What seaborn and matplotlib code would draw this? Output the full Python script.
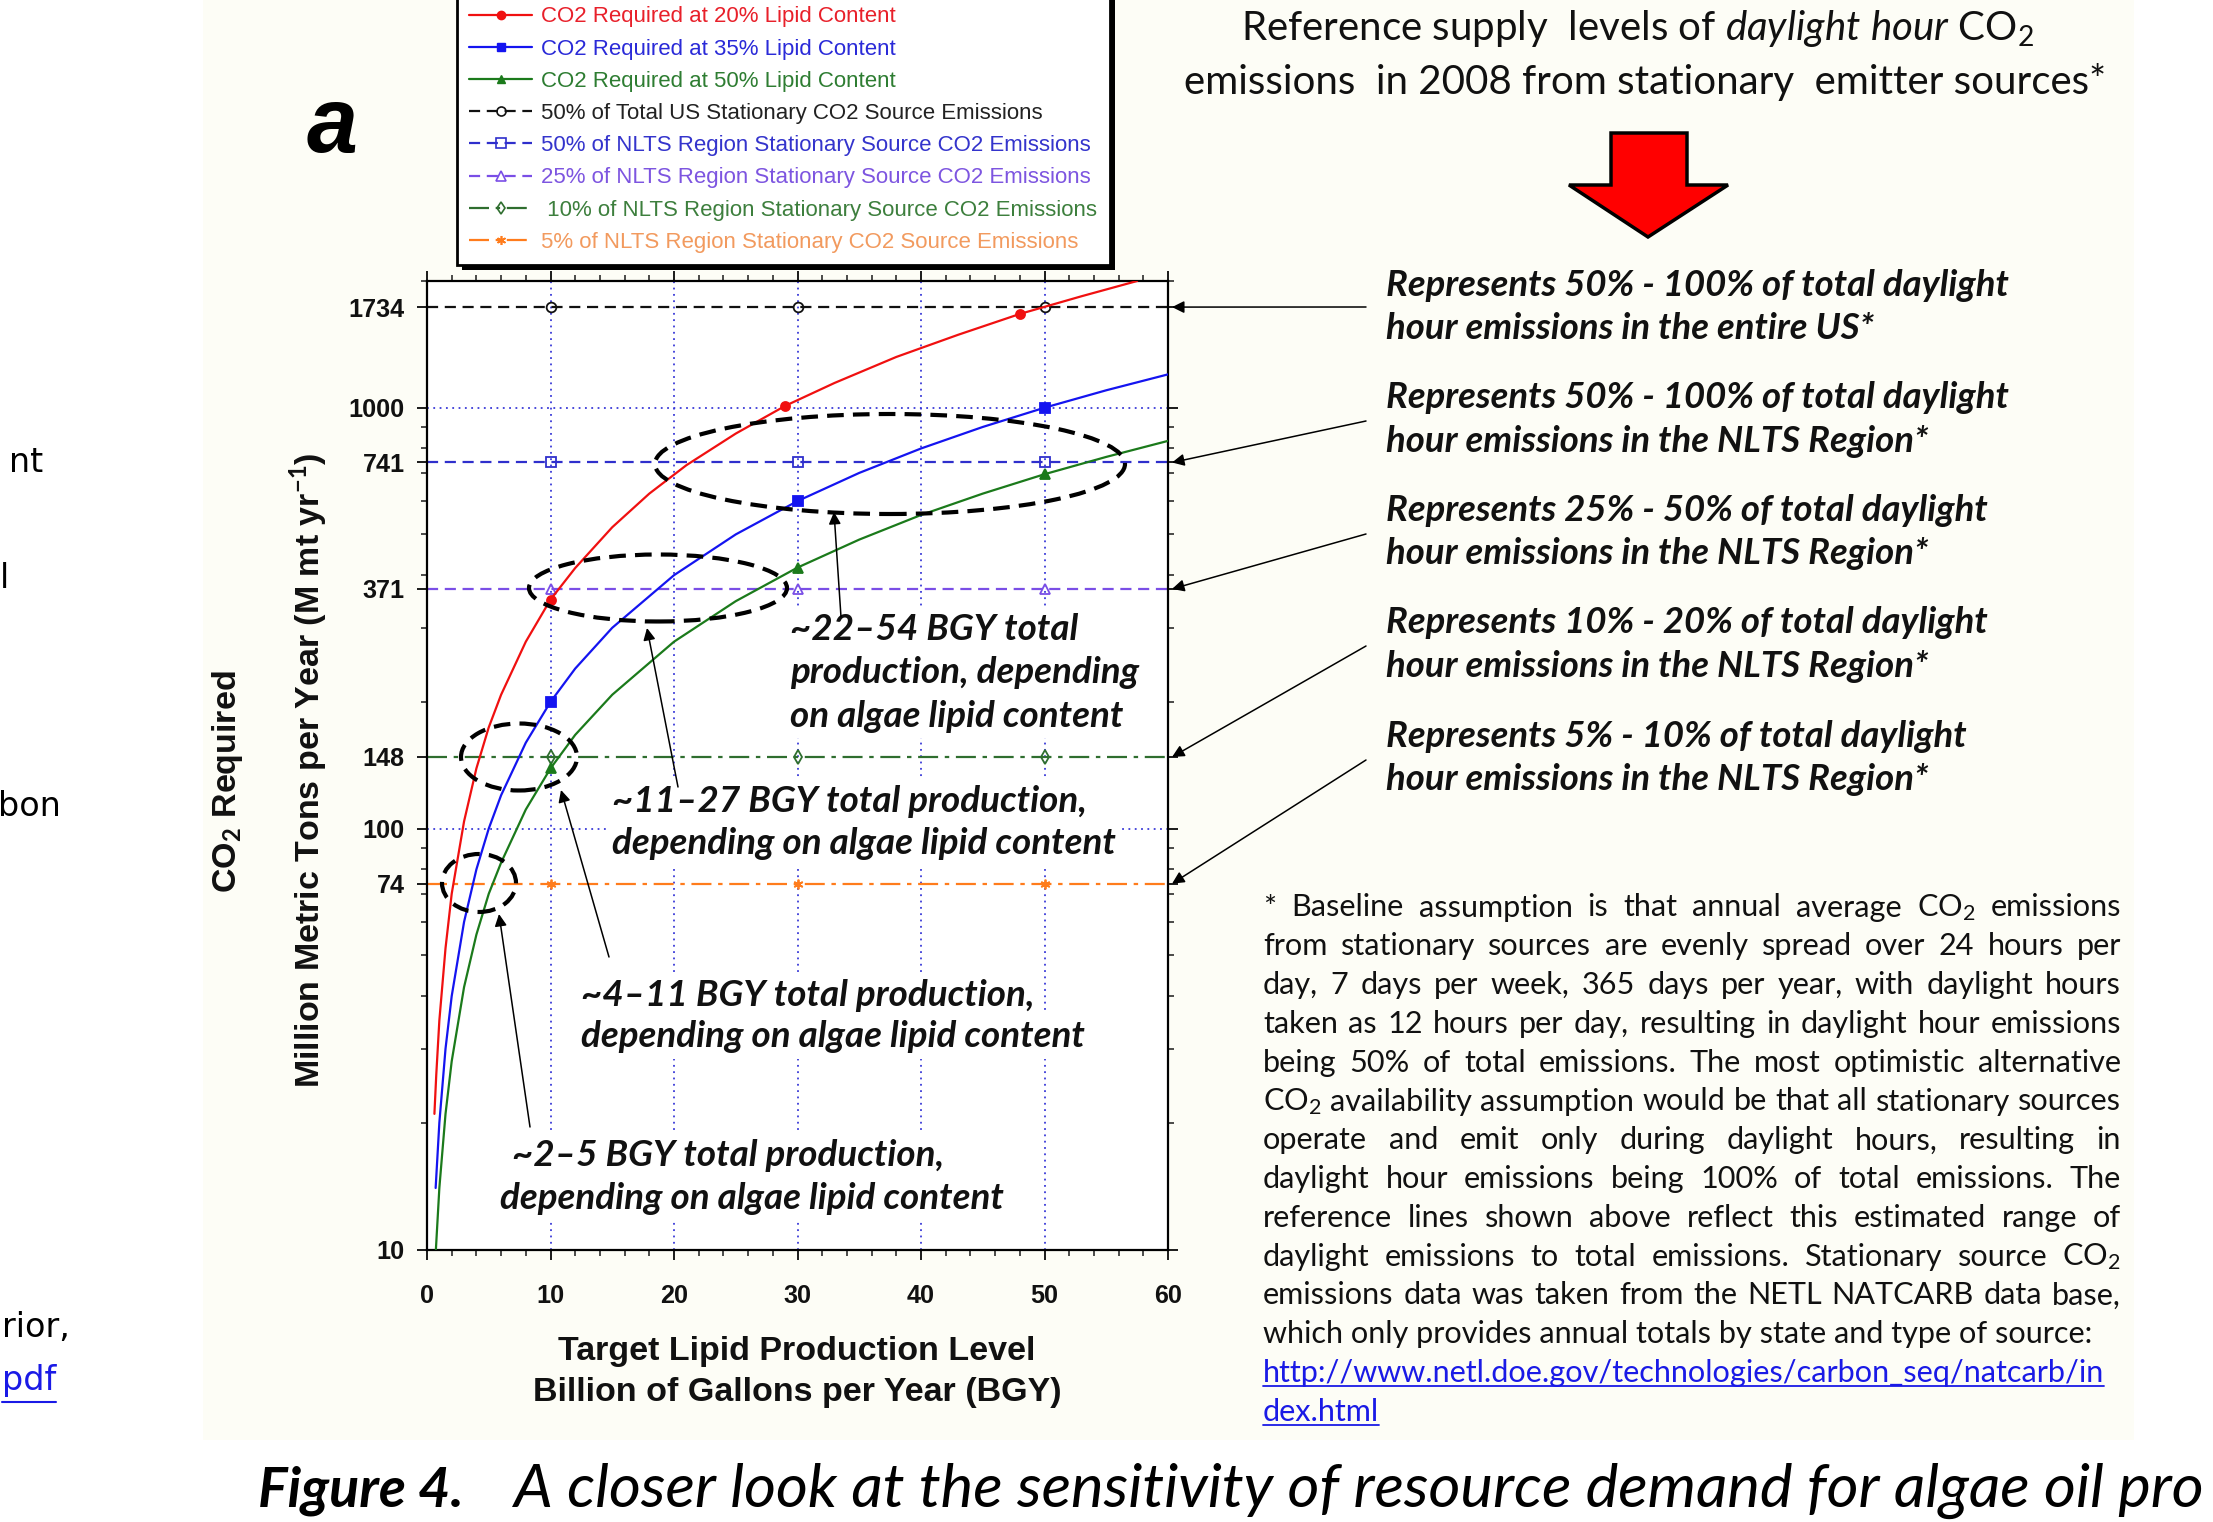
import numpy as np
import pandas as pd
import matplotlib
matplotlib.use("Agg")
import matplotlib.pyplot as plt
import matplotlib.ticker as mticker
from matplotlib.patches import Ellipse, Polygon, Rectangle
from matplotlib.lines import Line2D
import seaborn as sns

# ---------------- data ----------------
lipid_labels = ["CO2 Required at 20% Lipid Content",
                "CO2 Required at 35% Lipid Content",
                "CO2 Required at 50% Lipid Content"]
x_red = [0.6, 0.75, 1, 1.5, 2, 3, 4, 5, 6, 8, 10, 12, 15, 18, 21, 25, 29, 33, 38, 43, 48, 53, 57.5]
y_red = [21, 26, 35, 52, 70, 104, 139, 174, 208, 278, 350, 416, 520, 625, 730, 868, 1010, 1145,
         1320, 1490, 1670, 1840, 2000]
x_blue = [0.7, 1, 1.5, 2, 3, 4, 5, 6, 8, 10, 12, 15, 20, 25, 30, 35, 40, 45, 50, 55, 60]
y_blue = [14, 20, 30, 40, 60, 80, 100, 120, 160, 200, 240, 300, 400, 500, 600, 700, 800, 900,
          1000, 1100, 1200]
x_green = [0.72, 1, 1.5, 2, 3, 4, 5, 6, 8, 10, 12, 15, 20, 25, 30, 35, 40, 45, 50, 55, 60]
y_green = [10, 14, 21, 28, 42, 56, 70, 83, 111, 139, 167, 208, 278, 347, 417, 486, 556, 625,
           695, 764, 834]
marks_red = [10, 29, 48]
marks_blue = [10, 30, 50]
marks_green = [10, 30, 50]

ref_labels = ["50% of Total US Stationary CO2 Source Emissions",
              "50% of NLTS Region Stationary Source CO2 Emissions",
              "25% of NLTS Region Stationary Source CO2 Emissions",
              " 10% of NLTS Region Stationary Source CO2 Emissions",
              "5% of NLTS Region Stationary CO2 Source Emissions"]
ref_levels = [1734, 741, 371, 148, 74]
ref_x = [0, 10, 20, 30, 40, 50, 60]
ref_marks = [10, 30, 50]

x_ticks = [0, 10, 20, 30, 40, 50, 60]
y_ticks = [10, 74, 100, 148, 371, 741, 1000, 1734]
y_tick_labels = ["10", "74", "100", "148", "371", "741", "1000", "1734"]
grid_y = [100, 1000]

right_notes = [("Represents 50% - 100% of total daylight", "hour emissions in the entire US*"),
               ("Represents 50% - 100% of total daylight", "hour emissions in the NLTS Region*"),
               ("Represents 25% - 50% of total daylight", "hour emissions in the NLTS Region*"),
               ("Represents 10% - 20% of total daylight", "hour emissions in the NLTS Region*"),
               ("Represents 5% - 10% of total daylight", "hour emissions in the NLTS Region*")]
band_notes = [["~22\u201354 BGY total", "production, depending", "on algae lipid content"],
              ["~11\u201327 BGY total production,", "depending on algae lipid content"],
              ["~4\u201311 BGY total production,", "depending on algae lipid content"],
              ["~2\u20135 BGY total production,", "depending on algae lipid content"]]
footnote = ["* Baseline assumption is that annual average CO$_2$ emissions",
            "from stationary sources are evenly spread over 24 hours per",
            "day, 7 days per week, 365 days per year, with daylight hours",
            "taken as 12 hours per day, resulting in daylight hour emissions",
            "being 50% of total emissions.  The most optimistic alternative",
            "CO$_2$ availability assumption would be that all stationary sources",
            "operate and emit only during daylight hours, resulting in",
            "daylight hour emissions being 100% of total emissions.  The",
            "reference lines shown above reflect this estimated range of",
            "daylight emissions to total emissions.  Stationary source CO$_2$",
            "emissions data was taken from the NETL NATCARB data base,",
            "which only provides annual totals by state and type of source:"]
url_lines = ["http://www.netl.doe.gov/technologies/carbon_seq/natcarb/in", "dex.html"]

# ---------------- setup ----------------
W, H, DPI = 2213, 1522, 100
sns.set_theme(style="ticks")
plt.rcParams["font.family"] = ["Liberation Sans", "DejaVu Sans"]
plt.rcParams["mathtext.fontset"] = "custom"
plt.rcParams["mathtext.rm"] = "Lato"
plt.rcParams["mathtext.it"] = "Lato:italic"
plt.rcParams["mathtext.bf"] = "Lato:bold"

fig = plt.figure(figsize=(W / DPI, H / DPI), dpi=DPI, facecolor="white")
R = fig.canvas.get_renderer()


def fx(px):
    return px / W


def fy(py):
    return 1 - py / H


def width_of(s, size, **kw):
    t = fig.text(0, 0, s, fontsize=size, **kw)
    w = t.get_window_extent(R).width
    t.remove()
    return w


def fit(s, target, **kw):
    return 10 * target / width_of(s, 10, **kw)


# faint cream background of the pasted figure
fig.add_artist(Rectangle((fx(203), fy(1440)), fx(2134) - fx(203), fy(0) - fy(1440),
                         transform=fig.transFigure, facecolor="#fdfdf6", edgecolor="none", zorder=-10))

# ---------------- axes ----------------
AX_L, AX_R, AX_T, AX_B = 427, 1168, 281, 1249.5
ax = fig.add_axes([fx(AX_L), fy(AX_B), (AX_R - AX_L) / W, (AX_B - AX_T) / H])
ax.set_facecolor("white")
ax.set_yscale("log")
ax.set_xlim(0, 60)
ax.set_ylim(10, 2000)

curve_colors = ["#f01010", "#1414f0", "#1b7a1b"]
curve_markers = ["o", "s", "^"]
ref_colors = ["#111111", "#2f2fcc", "#7a4ee6", "#2f6e2f", "#ff7c1c"]
ref_markers = ["o", "s", "^", "d", (6, 2, 0)]
ref_ls = [(0, (5, 3)), (0, (5, 3)), (0, (5, 3)), (0, (9, 3, 2, 3)), (0, (9, 3, 2, 3))]
leg_text_colors = ["#e8202a", "#2a2ad8", "#2e7d32", "#222222", "#3434cc", "#7d55e0", "#3d7f3d", "#f29a5e"]


def series(xs, ys, marks, color, marker, ls="-", lw=1.6, ms=6.5, filled=True, z=3):
    idx = [i for i, v in enumerate(xs) if v in marks]
    sns.lineplot(x=xs, y=ys, ax=ax, color=color, linestyle=ls, linewidth=lw,
                 marker=marker, markevery=idx, markersize=ms,
                 markerfacecolor=color if filled else "none",
                 markeredgecolor=color, markeredgewidth=1.3,
                 estimator=None, errorbar=None, sort=False, legend=False, zorder=z)


for lvl, c, m, ls in zip(ref_levels, ref_colors, ref_markers, ref_ls):
    series(ref_x, [lvl] * len(ref_x), ref_marks, c, m, ls=ls, lw=1.6, ms=7, filled=False, z=2)

series(x_red, y_red, marks_red, curve_colors[0], "o")
series(x_blue, y_blue, marks_blue, curve_colors[1], "s")
series(x_green, y_green, marks_green, curve_colors[2], "^")

# grid (blue dotted)
grid_style = dict(color="#3a3ad8", linestyle=(0, (1, 2.5)), linewidth=1.3)
ax.set_axisbelow(True)
ax.grid(axis="x", which="major", **grid_style)
for g in grid_y:
    ax.axhline(g, zorder=0.6, **grid_style)

# ticks
ax.set_xticks(x_ticks)
ax.xaxis.set_minor_locator(mticker.MultipleLocator(2))
ax.set_yticks(y_ticks, labels=y_tick_labels)
ax.yaxis.set_minor_locator(mticker.LogLocator(10, subs=np.arange(2, 10), numticks=20))
ax.yaxis.set_minor_formatter(mticker.NullFormatter())
tick_fs = fit("1734", 56, weight="bold")
ax.tick_params(which="major", direction="out", length=7, width=1.4, color="k",
               top=True, right=True, labelsize=tick_fs, labelcolor="#111111")
ax.tick_params(which="minor", direction="out", length=4, width=1.1, color="k", top=True, right=True)
ax.tick_params(axis="x", which="major", pad=18)
ax.tick_params(axis="y", which="major", pad=9)
for lab in ax.get_xticklabels() + ax.get_yticklabels():
    lab.set_fontweight("bold")
for s in ax.spines.values():
    s.set_visible(True)
    s.set_linewidth(1.6)
    s.set_color("black")

# axis labels
lab_fs = fit("Billion of Gallons per Year (BGY)", 529, weight="bold")
fig.text(fx(797), fy(1360), "Target Lipid Production Level", ha="center", va="baseline",
         fontsize=lab_fs, weight="bold", color="#111111")
fig.text(fx(797), fy(1401), "Billion of Gallons per Year (BGY)", ha="center", va="baseline",
         fontsize=lab_fs, weight="bold", color="#111111")
fig.text(fx(228), fy(782), "CO$_\\mathbf{2}$ Required", rotation=90, ha="center", va="center",
         fontsize=lab_fs, weight="bold", color="#111111")
fig.text(fx(309), fy(770), "Million Metric Tons per Year (M mt yr$^{\\mathbf{-1}}$)", rotation=90,
         ha="center", va="center", fontsize=lab_fs, weight="bold", color="#111111")

# panel letter
fig.text(fx(332), fy(152), "a", ha="center", va="baseline", fontsize=66, weight="bold",
         style="italic", color="black")


# ---------------- ellipses ----------------
def to_ax(px, py):
    return (px - AX_L) / (AX_R - AX_L), (AX_B - py) / (AX_B - AX_T)


ellipses = [(890, 464, 470, 100), (658, 588, 258, 67), (519, 757, 116, 67), (479, 883, 74, 58)]
for cx, cy, w, h in ellipses:
    c = to_ax(cx, cy)
    ax.add_patch(Ellipse(c, w / (AX_R - AX_L), h / (AX_B - AX_T), transform=ax.transAxes,
                         fill=False, edgecolor="black", linewidth=3.0, linestyle=(0, (4, 2.2)),
                         zorder=4, clip_on=False))

# ---------------- band annotations (inside plot) ----------------
ann_fs = fit(band_notes[1][0], 472, family="Lato", weight="bold", style="italic")
band_pos = [([790, 790, 790], [639.5, 683, 726.5]),
            ([612, 612], [812, 854]),
            ([581, 581], [1005.5, 1047]),
            ([512, 500], [1166, 1209])]
for lines, (xs, ys) in zip(band_notes, band_pos):
    for s, x, y in zip(lines, xs, ys):
        ax.text(fx(x), fy(y), s, transform=fig.transFigure, ha="left", va="baseline",
                fontsize=ann_fs, family="Lato", weight="bold", style="italic", color="#111111",
                zorder=1.5, bbox=dict(facecolor="white", edgecolor="none", pad=4))

arrow_kw = dict(arrowstyle="-|>", color="black", lw=1.1, mutation_scale=18, shrinkA=0, shrinkB=0)
for (x0, y0), (x1, y1) in [((841, 617), (834, 512)), ((678, 787), (647, 628)),
                           ((609, 957), (561, 790)), ((530, 1127), (499, 914))]:
    ax.annotate("", xy=(x1, H - y1), xycoords="figure pixels", xytext=(x0, H - y0),
                textcoords="figure pixels", arrowprops=arrow_kw, annotation_clip=False, zorder=5)

# ---------------- right side notes ----------------
rn_fs = fit(right_notes[0][0], 622, family="Lato", weight="bold", style="italic")
rn_base = [295.5, 408, 521, 633, 747]
for (l1, l2), yb in zip(right_notes, rn_base):
    fig.text(fx(1386), fy(yb), l1, ha="left", va="baseline", fontsize=rn_fs, family="Lato",
             weight="bold", style="italic", color="#111111")
    fig.text(fx(1386), fy(yb + 43.5), l2, ha="left", va="baseline", fontsize=rn_fs, family="Lato",
             weight="bold", style="italic", color="#111111")

arrow_start_y = [307, 421, 534, 646, 760]
for lvl, ys in zip(ref_levels, arrow_start_y):
    ax.annotate("", xy=(1.0055, lvl), xycoords=("axes fraction", "data"), xytext=(1366, H - ys),
                textcoords="figure pixels", arrowprops=arrow_kw, annotation_clip=False, zorder=5)

# ---------------- title + red arrow ----------------
title_fs = fit("emissions  in 2008 from stationary  emitter sources*", 922, family="Lato")
fig.text(fx(1638), fy(40), "Reference supply  levels of $\\mathit{daylight\\ hour}$ CO$_2$",
         ha="center", va="baseline", fontsize=title_fs, family="Lato", color="#111111")
fig.text(fx(1645), fy(94), "emissions  in 2008 from stationary  emitter sources*",
         ha="center", va="baseline", fontsize=title_fs, family="Lato", color="#111111")
arrow_pts = [(1611, 133), (1687, 133), (1687, 185), (1728, 185), (1648, 237), (1569, 185), (1611, 185)]
fig.add_artist(Polygon([(fx(x), fy(y)) for x, y in arrow_pts], closed=True, transform=fig.transFigure,
                       facecolor="#ff0000", edgecolor="black", linewidth=2.5, joinstyle="miter"))

# ---------------- footnote (justified) ----------------
fn_fs = fit(footnote[-1], 833, family="Lato")
FN_X0, FN_X1 = 1263, 2121
for i, line in enumerate(footnote):
    yb = 916.5 + 38.8 * i
    if i == len(footnote) - 1:
        fig.text(fx(FN_X0), fy(yb), line, ha="left", va="baseline", fontsize=fn_fs,
                 family="Lato", color="#111111")
        continue
    words = line.split()
    ts = [fig.text(0, fy(yb), w, ha="left", va="baseline", fontsize=fn_fs, family="Lato",
                   color="#111111") for w in words]
    ws = [t.get_window_extent(R).width for t in ts]
    gap = (FN_X1 - FN_X0 - sum(ws)) / (len(words) - 1)
    x = FN_X0
    for t, w in zip(ts, ws):
        t.set_x(fx(x))
        x += w + gap
for j, u in enumerate(url_lines):
    yb = 916.5 + 38.8 * (len(footnote) + j)
    t = fig.text(fx(FN_X0), fy(yb), u, ha="left", va="baseline", fontsize=fn_fs, family="Lato",
                 color="#1a1ae6")
    w = t.get_window_extent(R).width
    fig.add_artist(Line2D([fx(FN_X0), fx(FN_X0 + w)], [fy(yb + 4), fy(yb + 4)],
                          transform=fig.transFigure, color="#1a1ae6", linewidth=1.3))

# ---------------- caption ----------------
cap_a = "Figure 4."
cap_b = "A closer look at the sensitivity of resource demand for algae oil pro"
cap_fs1 = fit(cap_a, 205, family="Lato", weight="bold", style="italic")
cap_fs2 = fit(cap_b, 1690, family="Lato", style="italic")
fig.text(fx(258), fy(1507), cap_a, ha="left", va="baseline", fontsize=cap_fs1, family="Lato",
         weight="bold", style="italic", color="black")
fig.text(fx(514.5), fy(1507), cap_b, ha="left", va="baseline", fontsize=cap_fs2, family="Lato",
         style="italic", color="black")

# ---------------- fragments of neighbouring slide text (left edge) ----------------
frag = [("nt", 43, 472, "black"), ("l", 9, 588, "black"), ("bon", 61, 816, "black"),
        ("rior,", 70, 1337, "black"), ("pdf", 56, 1390, "#1a1ae6")]
for s, xr, yb, c in frag:
    t = fig.text(fx(xr), fy(yb), s, ha="right", va="baseline", fontsize=24, family="DejaVu Sans", color=c)
    if s == "pdf":
        w = t.get_window_extent(R).width
        fig.add_artist(Line2D([fx(xr - w), fx(xr)], [fy(yb + 12), fy(yb + 12)],
                              transform=fig.transFigure, color=c, linewidth=1.5))

# ---------------- legend ----------------
handles = []
for c, m in zip(curve_colors, curve_markers):
    handles.append(Line2D([], [], color=c, lw=1.6, marker=m, ms=6, mfc=c, mec=c))
for c, m, ls in zip(ref_colors, ref_markers, ref_ls):
    handles.append(Line2D([], [], color=c, lw=1.6, ls=ls, marker=m, ms=6.5, mfc="none", mec=c, mew=1.2))
labels = lipid_labels + ref_labels
leg_fs = fit(ref_labels[1], 553)
fs_px = leg_fs * DPI / 72
tmp = fig.text(0, 0, labels[0], fontsize=leg_fs)
h_txt = tmp.get_window_extent(R).height
tmp.remove()
leg = fig.legend(handles, labels, loc="lower left", bbox_to_anchor=(fx(457), fy(265)),
                 bbox_transform=fig.transFigure, fontsize=leg_fs, labelcolor=leg_text_colors,
                 frameon=True, fancybox=False, edgecolor="black", facecolor="white", framealpha=1,
                 borderpad=0.55, borderaxespad=0, handlelength=63 / fs_px, handletextpad=9 / fs_px,
                 labelspacing=(32.2 - h_txt) / fs_px, numpoints=1)
leg.get_frame().set_linewidth(2.0)
leg.set_zorder(20)
fig.canvas.draw()
bb = leg.get_frame().get_window_extent(R)
fig.add_artist(Rectangle(((bb.x0 + 5) / W, (bb.y0 - 5) / H), bb.width / W, bb.height / H,
                         transform=fig.transFigure, facecolor="black", edgecolor="none", zorder=19))

fig.savefig("out.png", dpi=DPI)
